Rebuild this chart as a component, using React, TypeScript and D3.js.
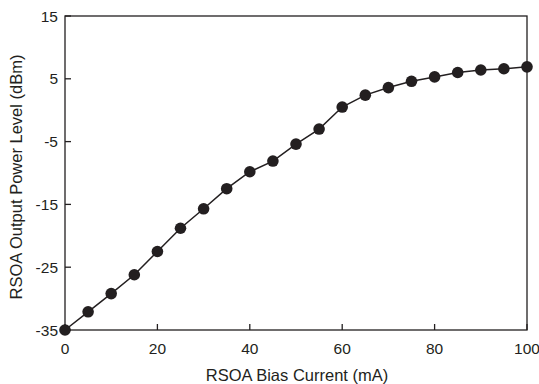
import React from "react";
import * as d3 from "d3";

const biasCurrent = [0, 5, 10, 15, 20, 25, 30, 35, 40, 45, 50, 55, 60, 65, 70, 75, 80, 85, 90, 95, 100];
const outputPower = [-35, -32.1, -29.2, -26.2, -22.5, -18.8, -15.7, -12.5, -9.8, -8.1, -5.4, -3.0, 0.5, 2.4, 3.6, 4.6, 5.3, 6.0, 6.4, 6.6, 6.9];
const xTicks = [0, 20, 40, 60, 80, 100];
const yTicks = [15, 5, -5, -15, -25, -35];

export default function App() {
  const W = 539, H = 384;
  const left = 65, right = 527, top = 16, bottom = 330;
  const x = d3.scaleLinear().domain([0, 100]).range([left, right]);
  const y = d3.scaleLinear().domain([-35, 15]).range([bottom, top]);
  const line = d3.line<number>().x((_, i) => x(biasCurrent[i])).y((d) => y(d));
  const ink = "#231f20";
  const font = "'Liberation Sans', Arial, Helvetica, sans-serif";
  return (
    <svg width={W} height={H} style={{ position: "absolute", left: 0, top: 0 }} fontFamily={font}>
      <rect x={0} y={0} width={W} height={H} fill="#fff" />
      <rect x={left} y={top} width={right - left} height={bottom - top} fill="none" stroke={ink} strokeWidth={1.3} />
      {xTicks.map((t) => (
        <g key={"x" + t}>
          <line x1={x(t)} x2={x(t)} y1={bottom} y2={bottom - 6} stroke={ink} strokeWidth={1.3} />
          <text x={x(t)} y={354} textAnchor="middle" fontSize={15.5} fill={ink}>{t}</text>
        </g>
      ))}
      {yTicks.map((t) => (
        <g key={"y" + t}>
          <line x1={left} x2={left + 6} y1={y(t)} y2={y(t)} stroke={ink} strokeWidth={1.3} />
          <text x={58} y={y(t) + 5.5} textAnchor="end" fontSize={15.5} fill={ink}>{t}</text>
        </g>
      ))}
      <path d={line(outputPower) || ""} fill="none" stroke={ink} strokeWidth={1.5} />
      {outputPower.map((v, i) => (
        <circle key={i} cx={x(biasCurrent[i])} cy={y(v)} r={5.8} fill={ink} />
      ))}
      <text x={297} y={381} textAnchor="middle" fontSize={16.5} fill={ink}>RSOA Bias Current (mA)</text>
      <text transform={`translate(22,177) rotate(-90)`} textAnchor="middle" fontSize={16.5} fill={ink}>RSOA Output Power Level (dBm)</text>
    </svg>
  );
}
